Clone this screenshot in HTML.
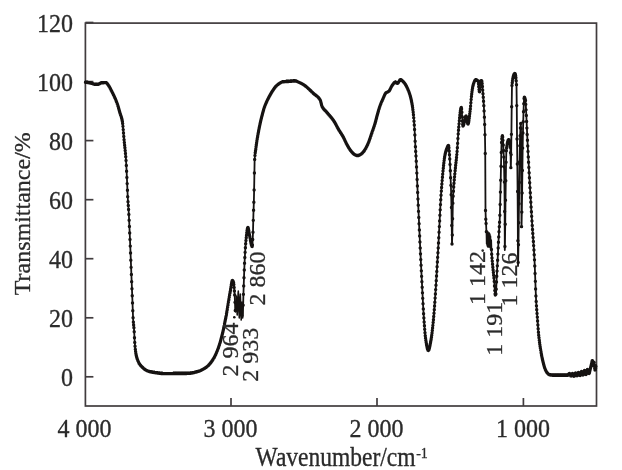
<!DOCTYPE html>
<html><head><meta charset="utf-8"><style>
html,body{margin:0;padding:0;background:#fff;}
svg{display:block;}
text{font-family:"Liberation Serif","Times New Roman",serif;font-size:24px;fill:#2b2b2b;stroke:#2b2b2b;stroke-width:0.3px;stroke-linejoin:round;}
</style></head><body>
<svg width="622" height="470" viewBox="0 0 622 470">
<rect x="0" y="0" width="622" height="470" fill="#fff"/>
<g stroke="#413c3e" stroke-width="1.7" fill="none">
<rect x="85.4" y="23.1" width="511.1" height="382.9"/>
<line x1="85.4" y1="376.8" x2="93.4" y2="376.8"/><line x1="85.4" y1="317.8" x2="93.4" y2="317.8"/><line x1="85.4" y1="258.7" x2="93.4" y2="258.7"/><line x1="85.4" y1="199.7" x2="93.4" y2="199.7"/><line x1="85.4" y1="140.6" x2="93.4" y2="140.6"/><line x1="85.4" y1="81.6" x2="93.4" y2="81.6"/><line x1="85.4" y1="22.5" x2="93.4" y2="22.5"/><line x1="231.0" y1="406" x2="231.0" y2="398"/><line x1="377.0" y1="406" x2="377.0" y2="398"/><line x1="523.4" y1="406" x2="523.4" y2="398"/>
</g>
<path d="M85.50,82.20 L85.78,82.23 L86.06,82.27 L86.34,82.30 L86.63,82.34 L86.91,82.38 L87.19,82.42 L87.47,82.47 L87.75,82.52 L88.03,82.56 L88.31,82.61 L88.60,82.67 L88.88,82.72 L89.16,82.77 L89.44,82.83 L89.72,82.89 L90.00,82.95 L90.29,83.01 L90.57,83.07 L90.85,83.13 L91.13,83.19 L91.41,83.26 L91.60,83.30 L91.69,83.32 L91.97,83.40 L92.26,83.49 L92.54,83.60 L92.82,83.71 L93.10,83.82 L93.38,83.93 L93.66,84.04 L93.94,84.14 L94.23,84.23 L94.51,84.30 L94.79,84.36 L95.07,84.39 L95.30,84.40 L95.35,84.40 L95.63,84.40 L95.92,84.39 L96.20,84.39 L96.48,84.38 L96.76,84.37 L97.04,84.36 L97.32,84.35 L97.60,84.33 L97.89,84.31 L98.10,84.30 L98.17,84.29 L98.45,84.24 L98.73,84.14 L99.01,84.02 L99.29,83.86 L99.57,83.70 L99.86,83.53 L100.14,83.36 L100.42,83.20 L100.70,83.07 L100.98,82.97 L101.26,82.90 L101.30,82.90 L101.55,82.87 L101.83,82.84 L102.11,82.81 L102.39,82.78 L102.67,82.75 L102.95,82.73 L103.23,82.71 L103.52,82.68 L103.80,82.67 L104.08,82.65 L104.36,82.63 L104.64,82.62 L104.92,82.61 L105.20,82.61 L105.49,82.60 L105.77,82.60 L105.80,82.60 L106.05,82.64 L106.33,82.77 L106.61,82.99 L106.89,83.27 L107.18,83.60 L107.46,83.97 L107.74,84.37 L108.02,84.78 L108.30,85.18 L108.58,85.58 L108.60,85.60 L108.86,85.98 L109.15,86.41 L109.43,86.89 L109.71,87.39 L109.99,87.91 L110.27,88.46 L110.55,89.01 L110.83,89.58 L111.12,90.14 L111.40,90.71 L111.68,91.26 L111.70,91.30 L111.96,91.81 L112.24,92.36 L112.52,92.92 L112.81,93.49 L113.09,94.06 L113.37,94.63 L113.65,95.22 L113.93,95.81 L114.21,96.41 L114.49,97.03 L114.78,97.65 L114.80,97.70 L115.06,98.28 L115.34,98.92 L115.62,99.57 L115.90,100.24 L116.18,100.93 L116.46,101.65 L116.60,102.00 L116.75,102.39 L117.03,103.16 L117.31,103.97 L117.59,104.80 L117.87,105.65 L118.15,106.53 L118.30,107.00 L118.44,107.44 L118.72,108.40 L119.00,109.39 L119.28,110.41 L119.56,111.43 L119.84,112.44 L120.00,113.00 L120.12,113.42 L120.41,114.31 L120.69,115.13 L120.97,115.94 L121.25,116.78 L121.53,117.70 L121.81,118.75 L122.09,119.97 L122.30,121.00 L122.38,121.44 L122.66,123.58 L122.94,126.37 L123.22,129.58 L123.50,133.01 L123.78,136.43 L124.07,139.63 L124.10,140.00 L124.35,142.50 L124.63,145.17 L124.91,147.79 L125.19,150.50 L125.47,153.43 L125.75,156.72 L126.00,160.00 L126.04,160.53 L126.32,165.43 L126.60,171.27 L126.88,177.44 L127.00,180.00 L127.16,183.59 L127.44,190.28 L127.72,196.65 L127.90,200.00 L128.01,201.71 L128.29,205.53 L128.57,209.50 L128.60,210.00 L128.85,214.53 L129.13,220.26 L129.41,226.46 L129.70,232.93 L129.98,239.47 L130.00,240.00 L130.26,246.11 L130.54,253.03 L130.82,260.16 L131.10,267.37 L131.38,274.56 L131.60,280.00 L131.67,281.65 L131.95,288.69 L132.23,295.72 L132.40,300.00 L132.51,302.89 L132.79,310.73 L133.07,317.69 L133.20,320.00 L133.35,322.11 L133.64,324.97 L133.92,327.69 L134.10,330.00 L134.20,331.72 L134.48,337.80 L134.60,340.00 L134.76,342.47 L135.04,346.30 L135.33,349.35 L135.40,350.00 L135.61,351.59 L135.89,353.42 L136.17,354.94 L136.40,356.00 L136.45,356.22 L136.73,357.33 L137.01,358.30 L137.30,359.16 L137.58,359.94 L137.60,360.00 L137.86,360.66 L138.14,361.35 L138.42,361.99 L138.70,362.58 L138.98,363.13 L139.27,363.63 L139.50,364.00 L139.55,364.07 L139.83,364.48 L140.11,364.85 L140.39,365.20 L140.67,365.52 L140.96,365.83 L141.24,366.13 L141.52,366.42 L141.80,366.70 L141.80,366.70 L142.08,366.98 L142.36,367.27 L142.64,367.54 L142.93,367.82 L143.21,368.08 L143.49,368.34 L143.77,368.58 L144.05,368.82 L144.33,369.04 L144.61,369.25 L144.90,369.43 L145.00,369.50 L145.18,369.61 L145.46,369.78 L145.74,369.94 L146.02,370.10 L146.30,370.25 L146.59,370.40 L146.87,370.54 L147.15,370.68 L147.43,370.81 L147.71,370.94 L147.99,371.05 L148.27,371.16 L148.56,371.27 L148.84,371.36 L149.12,371.45 L149.30,371.50 L149.40,371.53 L149.68,371.60 L149.96,371.68 L150.24,371.74 L150.53,371.81 L150.81,371.87 L151.09,371.94 L151.37,371.99 L151.65,372.05 L151.93,372.11 L152.22,372.16 L152.50,372.21 L152.78,372.26 L153.06,372.30 L153.34,372.35 L153.62,372.39 L153.90,372.44 L154.19,372.48 L154.47,372.52 L154.75,372.56 L155.00,372.60 L155.03,372.60 L155.31,372.65 L155.59,372.69 L155.87,372.73 L156.16,372.77 L156.44,372.81 L156.72,372.86 L157.00,372.90 L157.28,372.94 L157.56,372.99 L157.85,373.03 L158.13,373.07 L158.41,373.11 L158.69,373.15 L158.97,373.19 L159.25,373.23 L159.53,373.27 L159.82,373.30 L160.10,373.34 L160.38,373.37 L160.66,373.40 L160.94,373.43 L161.22,373.46 L161.50,373.48 L161.79,373.51 L162.07,373.53 L162.35,373.55 L162.63,373.56 L162.91,373.58 L163.19,373.59 L163.48,373.59 L163.76,373.60 L164.00,373.60 L164.04,373.60 L164.32,373.60 L164.60,373.60 L164.88,373.60 L165.16,373.60 L165.45,373.60 L165.73,373.60 L166.01,373.60 L166.29,373.60 L166.57,373.60 L166.85,373.60 L167.13,373.60 L167.42,373.60 L167.70,373.60 L167.98,373.60 L168.26,373.59 L168.54,373.59 L168.82,373.59 L169.11,373.59 L169.39,373.59 L169.67,373.59 L169.95,373.59 L170.23,373.59 L170.51,373.59 L170.79,373.59 L171.08,373.58 L171.36,373.58 L171.64,373.58 L171.92,373.58 L172.20,373.58 L172.48,373.58 L172.76,373.58 L173.05,373.57 L173.33,373.57 L173.61,373.57 L173.89,373.57 L174.17,373.57 L174.45,373.57 L174.74,373.56 L175.02,373.56 L175.30,373.56 L175.58,373.56 L175.86,373.56 L176.14,373.55 L176.42,373.55 L176.71,373.55 L176.99,373.55 L177.27,373.54 L177.55,373.54 L177.83,373.54 L178.11,373.54 L178.39,373.53 L178.68,373.53 L178.96,373.53 L179.24,373.52 L179.52,373.52 L179.80,373.52 L180.08,373.52 L180.37,373.51 L180.65,373.51 L180.93,373.51 L181.21,373.50 L181.49,373.50 L181.77,373.50 L182.05,373.49 L182.34,373.49 L182.62,373.48 L182.90,373.48 L183.18,373.48 L183.46,373.47 L183.74,373.47 L184.02,373.47 L184.31,373.46 L184.59,373.46 L184.87,373.45 L185.15,373.45 L185.43,373.44 L185.71,373.44 L186.00,373.43 L186.28,373.43 L186.56,373.43 L186.84,373.42 L187.12,373.42 L187.40,373.41 L187.68,373.41 L187.97,373.40 L188.00,373.40 L188.25,373.39 L188.53,373.38 L188.81,373.37 L189.09,373.35 L189.37,373.33 L189.65,373.30 L189.94,373.28 L190.22,373.24 L190.50,373.21 L190.78,373.17 L191.06,373.13 L191.34,373.09 L191.63,373.04 L191.91,372.99 L192.19,372.94 L192.47,372.89 L192.75,372.83 L193.03,372.77 L193.31,372.71 L193.60,372.65 L193.88,372.58 L194.16,372.52 L194.44,372.45 L194.72,372.38 L195.00,372.31 L195.28,372.24 L195.57,372.17 L195.85,372.09 L196.13,372.02 L196.41,371.94 L196.69,371.86 L196.97,371.79 L197.26,371.71 L197.54,371.63 L197.82,371.55 L198.00,371.50 L198.10,371.47 L198.38,371.39 L198.66,371.29 L198.94,371.19 L199.23,371.09 L199.51,370.97 L199.79,370.86 L200.07,370.73 L200.35,370.60 L200.63,370.47 L200.91,370.33 L201.20,370.19 L201.48,370.05 L201.76,369.90 L202.04,369.75 L202.32,369.60 L202.60,369.45 L202.89,369.29 L203.17,369.14 L203.45,368.98 L203.60,368.90 L203.73,368.83 L204.01,368.67 L204.29,368.51 L204.57,368.34 L204.86,368.18 L205.14,368.00 L205.42,367.82 L205.70,367.64 L205.98,367.45 L206.26,367.25 L206.54,367.05 L206.83,366.84 L207.11,366.62 L207.39,366.39 L207.50,366.30 L207.67,366.15 L207.95,365.90 L208.23,365.63 L208.52,365.35 L208.80,365.05 L209.08,364.74 L209.36,364.42 L209.64,364.09 L209.92,363.76 L210.20,363.41 L210.49,363.06 L210.77,362.69 L211.05,362.33 L211.30,362.00 L211.33,361.96 L211.61,361.58 L211.89,361.19 L212.17,360.79 L212.46,360.38 L212.74,359.96 L213.02,359.52 L213.30,359.07 L213.58,358.61 L213.86,358.13 L214.15,357.64 L214.43,357.13 L214.50,357.00 L214.71,356.61 L214.99,356.06 L215.27,355.48 L215.55,354.88 L215.83,354.25 L216.12,353.61 L216.40,352.96 L216.68,352.28 L216.96,351.59 L217.20,351.00 L217.24,350.89 L217.52,350.18 L217.80,349.44 L218.09,348.67 L218.37,347.89 L218.65,347.08 L218.93,346.25 L219.21,345.40 L219.49,344.52 L219.50,344.50 L219.78,343.61 L220.06,342.67 L220.34,341.69 L220.62,340.68 L220.90,339.65 L221.18,338.60 L221.46,337.54 L221.50,337.40 L221.75,336.45 L222.03,335.35 L222.31,334.23 L222.59,333.07 L222.87,331.88 L223.15,330.66 L223.30,330.00 L223.43,329.38 L223.72,328.03 L224.00,326.62 L224.28,325.17 L224.56,323.72 L224.84,322.29 L224.90,322.00 L225.12,320.89 L225.41,319.52 L225.69,318.15 L225.97,316.74 L226.25,315.27 L226.30,315.00 L226.53,313.70 L226.81,312.05 L227.09,310.35 L227.38,308.64 L227.40,308.50 L227.66,306.95 L227.94,305.23 L228.22,303.51 L228.50,301.80 L228.78,300.10 L228.80,300.00 L229.06,298.41 L229.35,296.71 L229.63,295.01 L229.91,293.34 L230.19,291.72 L230.47,290.15 L230.50,290.00 L230.75,288.50 L231.04,286.67 L231.32,284.80 L231.60,283.09 L231.88,281.69 L232.16,280.77 L232.40,280.50 L232.44,280.50 L232.72,280.69 L233.01,281.12 L233.29,281.72 L233.40,282.00 L233.57,282.64 L233.85,284.58 L234.13,287.41 L234.41,290.93 L234.69,294.93 L234.70,295.00 L234.98,302.36 L235.26,310.52M242.86,315.83 L243.14,305.23 L243.40,295.00 L243.42,294.36 L243.70,285.92 L243.98,277.68 L244.27,269.98 L244.55,263.19 L244.70,260.00 L244.83,257.51 L245.11,252.35 L245.39,247.70 L245.67,243.68 L245.95,240.44 L246.00,240.00 L246.24,237.75 L246.52,235.13 L246.80,232.69 L247.08,230.57 L247.36,228.90 L247.64,227.84 L247.90,227.50 L247.93,227.50 L248.21,228.01 L248.49,229.18 L248.77,230.77 L249.05,232.52 L249.33,234.17 L249.50,235.00 L249.61,235.53 L249.90,236.97 L250.18,238.54 L250.46,240.15 L250.74,241.73 L251.02,243.21 L251.30,244.51 L251.58,245.56 L251.87,246.28 L252.15,246.59 L252.20,246.60 L252.43,244.94 L252.71,239.49 L252.99,232.20 L253.00,232.00 L253.27,220.36 L253.40,215.00 L253.56,210.20 L253.84,202.23 L253.90,200.00 L254.12,189.96 L254.30,180.00 L254.40,173.02 L254.60,161.00 L254.68,159.46 L254.96,155.40 L255.24,152.76 L255.53,150.85 L255.81,149.01 L255.90,148.30 L256.09,146.81 L256.37,144.70 L256.65,142.71 L256.93,140.82 L257.21,139.02 L257.50,137.30 L257.78,135.63 L257.80,135.50 L258.06,134.01 L258.34,132.45 L258.62,130.94 L258.90,129.48 L259.19,128.06 L259.47,126.69 L259.75,125.34 L260.03,124.03 L260.30,122.80 L260.31,122.75 L260.59,121.50 L260.87,120.29 L261.16,119.12 L261.44,117.98 L261.72,116.87 L262.00,115.77 L262.20,115.00 L262.28,114.68 L262.56,113.60 L262.84,112.52 L263.13,111.47 L263.41,110.45 L263.69,109.48 L263.97,108.59 L264.00,108.50 L264.25,107.76 L264.53,106.97 L264.82,106.22 L265.10,105.50 L265.38,104.80 L265.66,104.13 L265.94,103.47 L266.10,103.10 L266.22,102.82 L266.50,102.18 L266.79,101.56 L267.07,100.96 L267.35,100.37 L267.63,99.78 L267.91,99.22 L268.19,98.66 L268.47,98.11 L268.76,97.56 L269.00,97.10 L269.04,97.03 L269.32,96.50 L269.60,95.97 L269.88,95.45 L270.16,94.94 L270.45,94.43 L270.73,93.93 L271.01,93.44 L271.29,92.96 L271.57,92.49 L271.85,92.04 L272.13,91.60 L272.40,91.20 L272.42,91.18 L272.70,90.76 L272.98,90.34 L273.26,89.92 L273.54,89.51 L273.82,89.10 L274.10,88.69 L274.39,88.29 L274.67,87.91 L274.95,87.53 L275.23,87.17 L275.51,86.82 L275.79,86.49 L276.08,86.17 L276.36,85.88 L276.64,85.60 L276.92,85.35 L277.10,85.20 L277.20,85.12 L277.48,84.90 L277.76,84.67 L278.05,84.45 L278.33,84.24 L278.61,84.02 L278.89,83.81 L279.17,83.61 L279.45,83.42 L279.73,83.23 L280.02,83.04 L280.30,82.87 L280.58,82.71 L280.86,82.56 L281.14,82.41 L281.42,82.28 L281.71,82.17 L281.99,82.06 L282.27,81.97 L282.55,81.90 L282.83,81.84 L283.10,81.80 L283.11,81.80 L283.39,81.77 L283.68,81.74 L283.96,81.71 L284.24,81.68 L284.52,81.66 L284.80,81.64 L285.08,81.62 L285.36,81.60 L285.65,81.58 L285.93,81.57 L286.21,81.55 L286.49,81.54 L286.77,81.52 L287.05,81.51 L287.34,81.49 L287.62,81.48 L287.90,81.47 L288.18,81.45 L288.46,81.43 L288.74,81.42 L289.00,81.40 L289.02,81.40 L289.31,81.38 L289.59,81.36 L289.87,81.33 L290.15,81.31 L290.43,81.29 L290.71,81.26 L290.99,81.24 L291.28,81.21 L291.56,81.19 L291.84,81.16 L292.12,81.14 L292.40,81.12 L292.68,81.10 L292.97,81.08 L293.25,81.06 L293.53,81.04 L293.81,81.03 L294.09,81.02 L294.37,81.01 L294.65,81.00 L294.94,81.00 L295.00,81.00 L295.22,81.01 L295.50,81.03 L295.78,81.08 L296.06,81.14 L296.34,81.22 L296.62,81.31 L296.91,81.41 L297.19,81.52 L297.47,81.64 L297.75,81.76 L298.03,81.89 L298.31,82.01 L298.60,82.13 L298.88,82.25 L299.00,82.30 L299.16,82.36 L299.44,82.48 L299.72,82.61 L300.00,82.73 L300.28,82.87 L300.57,83.00 L300.85,83.15 L301.13,83.29 L301.41,83.44 L301.69,83.60 L301.97,83.75 L302.25,83.92 L302.54,84.08 L302.82,84.25 L303.10,84.42 L303.38,84.60 L303.66,84.78 L303.94,84.96 L304.00,85.00 L304.23,85.15 L304.51,85.34 L304.79,85.54 L305.07,85.75 L305.35,85.96 L305.63,86.18 L305.91,86.41 L306.20,86.64 L306.48,86.87 L306.76,87.11 L307.04,87.36 L307.32,87.60 L307.60,87.85 L307.88,88.11 L308.17,88.37 L308.45,88.63 L308.73,88.89 L309.01,89.16 L309.29,89.43 L309.57,89.69 L309.86,89.97 L310.14,90.24 L310.42,90.51 L310.70,90.78 L310.98,91.06 L311.26,91.33 L311.54,91.61 L311.83,91.88 L312.11,92.15 L312.39,92.42 L312.67,92.69 L312.95,92.96 L313.10,93.10 L313.23,93.22 L313.51,93.48 L313.80,93.72 L314.08,93.95 L314.36,94.18 L314.64,94.39 L314.92,94.61 L315.20,94.82 L315.49,95.03 L315.77,95.24 L316.05,95.46 L316.33,95.68 L316.61,95.90 L316.89,96.14 L317.17,96.38 L317.46,96.64 L317.74,96.91 L318.02,97.19 L318.30,97.50 L318.58,97.82 L318.86,98.16 L319.14,98.53 L319.43,98.92 L319.71,99.33 L319.99,99.78 L320.27,100.25 L320.30,100.30 L320.55,100.90 L320.83,101.88 L321.12,103.04 L321.40,104.25 L321.68,105.38 L321.96,106.28 L322.10,106.60 L322.24,106.87 L322.52,107.37 L322.80,107.82 L323.09,108.24 L323.37,108.62 L323.65,108.97 L323.93,109.30 L324.21,109.61 L324.49,109.90 L324.77,110.18 L325.06,110.46 L325.34,110.74 L325.62,111.02 L325.90,111.31 L326.18,111.61 L326.46,111.94 L326.60,112.10 L326.75,112.28 L327.03,112.62 L327.31,112.95 L327.59,113.29 L327.87,113.62 L328.15,113.94 L328.43,114.27 L328.72,114.59 L329.00,114.92 L329.28,115.24 L329.56,115.56 L329.84,115.89 L330.12,116.22 L330.40,116.55 L330.69,116.88 L330.97,117.22 L331.25,117.56 L331.53,117.90 L331.81,118.26 L332.09,118.61 L332.38,118.98 L332.66,119.35 L332.94,119.73 L333.22,120.12 L333.50,120.52 L333.78,120.93 L333.90,121.10 L334.06,121.35 L334.35,121.79 L334.63,122.26 L334.91,122.74 L335.19,123.24 L335.47,123.75 L335.75,124.28 L336.03,124.81 L336.32,125.34 L336.60,125.88 L336.88,126.42 L337.16,126.95 L337.44,127.48 L337.72,128.00 L338.01,128.51 L338.29,129.01 L338.40,129.20 L338.57,129.49 L338.85,129.96 L339.13,130.42 L339.41,130.87 L339.69,131.32 L339.98,131.76 L340.26,132.20 L340.54,132.63 L340.82,133.07 L341.10,133.51 L341.38,133.96 L341.66,134.40 L341.95,134.86 L342.23,135.32 L342.51,135.79 L342.79,136.28 L343.07,136.77 L343.20,137.00 L343.35,137.28 L343.64,137.82 L343.92,138.38 L344.20,138.95 L344.48,139.54 L344.76,140.14 L345.04,140.74 L345.32,141.35 L345.61,141.96 L345.89,142.55 L346.17,143.14 L346.45,143.72 L346.73,144.27 L347.01,144.81 L347.29,145.32 L347.40,145.50 L347.58,145.80 L347.86,146.28 L348.14,146.76 L348.42,147.23 L348.70,147.69 L348.98,148.14 L349.27,148.59 L349.55,149.02 L349.83,149.45 L350.11,149.86 L350.39,150.26 L350.67,150.64 L350.95,151.01 L351.24,151.36 L351.52,151.69 L351.70,151.90 L351.80,152.01 L352.08,152.32 L352.36,152.62 L352.64,152.92 L352.92,153.21 L353.21,153.48 L353.49,153.74 L353.77,153.98 L354.05,154.20 L354.33,154.39 L354.61,154.56 L354.70,154.60 L354.90,154.70 L355.18,154.84 L355.46,154.98 L355.74,155.11 L356.02,155.23 L356.30,155.34 L356.58,155.43 L356.87,155.51 L357.15,155.56 L357.43,155.59 L357.60,155.60 L357.71,155.60 L357.99,155.57 L358.27,155.51 L358.55,155.43 L358.84,155.33 L359.12,155.21 L359.40,155.08 L359.68,154.94 L359.96,154.79 L360.24,154.64 L360.50,154.50 L360.53,154.49 L360.81,154.32 L361.09,154.13 L361.37,153.92 L361.65,153.69 L361.93,153.44 L362.21,153.17 L362.50,152.89 L362.78,152.60 L363.06,152.29 L363.34,151.97 L363.40,151.90 L363.62,151.64 L363.90,151.28 L364.18,150.89 L364.47,150.49 L364.75,150.06 L365.03,149.61 L365.31,149.14 L365.59,148.65 L365.87,148.14 L366.16,147.62 L366.44,147.08 L366.72,146.53 L367.00,145.96 L367.28,145.38 L367.56,144.79 L367.70,144.50 L367.84,144.19 L368.13,143.54 L368.41,142.86 L368.69,142.14 L368.97,141.40 L369.25,140.62 L369.53,139.82 L369.81,139.01 L370.10,138.18 L370.38,137.34 L370.66,136.49 L370.94,135.64 L371.22,134.80 L371.50,133.96 L371.79,133.13 L371.90,132.80 L372.07,132.32 L372.35,131.51 L372.63,130.70 L372.91,129.89 L373.19,129.08 L373.47,128.26 L373.76,127.43 L374.04,126.58 L374.32,125.72 L374.60,124.83 L374.88,123.92 L375.10,123.20 L375.16,122.99 L375.44,122.00 L375.73,120.95 L376.01,119.87 L376.29,118.77 L376.57,117.66 L376.85,116.55 L377.13,115.47 L377.42,114.42 L377.70,113.41 L377.70,113.40 L377.98,112.44 L378.26,111.47 L378.54,110.52 L378.82,109.58 L379.10,108.67 L379.39,107.79 L379.67,106.95 L379.95,106.14 L380.00,106.00 L380.23,105.37 L380.51,104.64 L380.79,103.92 L381.07,103.23 L381.36,102.56 L381.64,101.90 L381.92,101.26 L382.20,100.63 L382.48,100.00 L382.76,99.38 L382.80,99.30 L383.05,98.75 L383.33,98.09 L383.61,97.42 L383.89,96.74 L384.17,96.08 L384.45,95.44 L384.73,94.84 L385.02,94.28 L385.30,93.79 L385.58,93.37 L385.86,93.04 L385.90,93.00 L386.14,92.78 L386.42,92.57 L386.70,92.39 L386.99,92.24 L387.27,92.10 L387.55,91.96 L387.83,91.83 L388.11,91.69 L388.39,91.53 L388.68,91.34 L388.96,91.13 L389.10,91.00 L389.24,90.86 L389.52,90.50 L389.80,90.06 L390.08,89.55 L390.36,88.99 L390.65,88.41 L390.93,87.81 L391.21,87.22 L391.49,86.65 L391.77,86.12 L392.05,85.65 L392.30,85.30 L392.33,85.26 L392.62,84.88 L392.90,84.50 L393.18,84.12 L393.46,83.74 L393.74,83.38 L394.02,83.04 L394.31,82.75 L394.59,82.49 L394.87,82.30 L395.15,82.16 L395.43,82.10 L395.50,82.10 L395.71,82.15 L395.99,82.32 L396.28,82.57 L396.56,82.86 L396.84,83.13 L397.12,83.32 L397.40,83.40 L397.40,83.40 L397.68,83.32 L397.96,83.09 L398.25,82.74 L398.53,82.32 L398.81,81.84 L399.09,81.34 L399.37,80.85 L399.65,80.40 L399.94,80.02 L400.22,79.75 L400.50,79.61 L400.60,79.60 L400.78,79.62 L401.06,79.72 L401.34,79.88 L401.62,80.10 L401.91,80.37 L402.19,80.65 L402.47,80.95 L402.75,81.25 L403.00,81.50 L403.03,81.53 L403.31,81.81 L403.59,82.10 L403.88,82.41 L404.16,82.74 L404.44,83.09 L404.72,83.47 L405.00,83.86 L405.10,84.00 L405.28,84.28 L405.57,84.72 L405.85,85.20 L406.13,85.71 L406.41,86.24 L406.69,86.80 L406.97,87.38 L407.25,87.98 L407.54,88.61 L407.82,89.25 L408.10,89.92 L408.30,90.40 L408.38,90.60 L408.66,91.30 L408.94,92.03 L409.22,92.79 L409.51,93.60 L409.79,94.45 L410.07,95.36 L410.35,96.32 L410.63,97.35 L410.80,98.00 L410.91,98.46 L411.20,99.67 L411.48,101.00 L411.76,102.45 L412.04,104.03 L412.32,105.75 L412.60,107.62 L412.70,108.30 L412.88,109.69 L413.17,112.09 L413.45,114.81 L413.73,117.83 L414.00,121.00 L414.01,121.13 L414.29,124.99 L414.57,129.54 L414.60,130.00 L414.85,135.04 L415.14,141.19 L415.30,144.50 L415.42,146.65 L415.70,151.40 L415.98,156.06 L416.20,160.00 L416.26,161.21 L416.54,166.96 L416.83,173.11 L417.11,179.52 L417.39,186.05 L417.67,192.57 L417.95,198.93 L418.00,200.00 L418.23,205.13 L418.51,211.35 L418.80,217.56 L419.08,223.76 L419.36,229.92 L419.64,236.02 L419.92,242.05 L420.20,247.99 L420.30,250.00 L420.48,253.83 L420.77,259.59 L421.05,265.27 L421.33,270.87 L421.61,276.37 L421.80,280.00 L421.89,281.78 L422.17,287.28 L422.46,292.83 L422.74,298.35 L423.02,303.73 L423.30,308.88 L423.58,313.69 L423.86,318.06 L424.00,320.00 L424.14,321.97 L424.43,325.75 L424.71,329.35 L424.99,332.70 L425.27,335.68 L425.55,338.22 L425.80,340.00 L425.83,340.21 L426.11,341.96 L426.40,343.67 L426.68,345.29 L426.96,346.76 L427.24,348.06 L427.52,349.13 L427.80,349.92 L428.09,350.39 L428.30,350.50 L428.37,350.49 L428.65,350.23 L428.93,349.65 L429.21,348.81 L429.49,347.73 L429.77,346.48 L430.06,345.09 L430.34,343.60 L430.62,342.07 L430.90,340.53 L431.00,340.00 L431.18,338.97 L431.46,337.19 L431.74,335.18 L432.03,332.96 L432.31,330.57 L432.59,328.02 L432.87,325.34 L433.15,322.54 L433.40,320.00 L433.43,319.65 L433.72,316.57 L434.00,313.27 L434.28,309.75 L434.56,306.04 L434.84,302.15 L435.12,298.10 L435.40,293.90 L435.69,289.58 L435.97,285.15 L436.25,280.64 L436.53,276.05 L436.81,271.41 L437.09,266.74 L437.37,262.04 L437.66,257.35 L437.94,252.68 L438.10,250.00 L438.22,247.99 L438.50,243.01 L438.78,237.72 L439.06,232.21 L439.35,226.58 L439.63,220.92 L439.91,215.31 L440.19,209.83 L440.47,204.59 L440.75,199.66 L441.03,195.13 L441.32,191.10 L441.40,190.00 L441.60,187.50 L441.88,184.00 L442.16,180.59 L442.44,177.28 L442.72,174.09 L443.00,171.05 L443.29,168.16 L443.57,165.45 L443.85,162.92 L444.13,160.61 L444.41,158.53 L444.69,156.70 L444.98,155.12 L445.00,155.00 L445.26,153.77 L445.54,152.54 L445.82,151.44 L446.10,150.46 L446.38,149.59 L446.66,148.83 L446.80,148.50 L446.95,148.15 L447.23,147.46 L447.51,146.80 L447.79,146.22 L448.07,145.78 L448.35,145.54 L448.50,145.50 L448.63,145.77 L448.92,147.77 L449.20,151.03 L449.48,154.73 L449.50,155.00 L449.76,158.97 L450.04,164.42 L450.32,170.75 L450.50,175.00 L450.61,177.64 L450.89,185.36 L451.17,194.77 L451.30,200.00 L451.45,207.52 L451.73,225.47 L451.80,230.00 L452.00,244.00 L452.01,243.97 L452.29,234.97 L452.40,230.00 L452.58,218.71 L452.80,205.00 L452.86,203.16 L453.14,196.19 L453.42,191.26 L453.50,190.00 L453.70,186.96 L453.98,183.22 L454.26,179.90 L454.55,176.84 L454.83,173.86 L455.00,172.00 L455.11,170.82 L455.39,167.97 L455.67,165.29 L455.95,162.71 L456.24,160.13 L456.52,157.45 L456.80,154.59 L457.08,151.45 L457.20,150.00 L457.36,147.81 L457.64,143.33 L457.92,138.50 L458.21,133.90 L458.49,130.14 L458.50,130.00 L458.77,127.00 L459.05,123.83 L459.33,120.71 L459.61,117.72 L459.89,114.95 L460.18,112.50 L460.46,110.44 L460.74,108.86 L461.02,107.85 L461.30,107.50 L461.30,107.50 L461.58,108.88 L461.87,112.28 L462.15,116.70 L462.43,121.13 L462.71,124.57 L462.99,126.00 L463.00,126.00 L463.27,125.77 L463.55,125.10 L463.84,124.10 L464.12,122.87 L464.40,121.50 L464.68,120.10 L464.96,118.76 L465.24,117.59 L465.52,116.67 L465.81,116.12 L466.00,116.00 L466.09,116.05 L466.37,116.72 L466.65,117.99 L466.93,119.60 L467.21,121.26 L467.50,122.73 L467.78,123.72 L468.00,124.00 L468.06,123.98 L468.34,123.46 L468.62,122.30 L468.90,120.64 L469.18,118.59 L469.47,116.29 L469.75,113.86 L470.03,111.42 L470.20,110.00 L470.31,109.04 L470.59,106.12 L470.87,102.81 L471.15,99.47 L471.44,96.46 L471.60,95.00 L471.72,94.05 L472.00,91.82 L472.28,89.74 L472.56,87.88 L472.84,86.35 L473.10,85.30 L473.13,85.21 L473.41,84.29 L473.69,83.41 L473.97,82.58 L474.25,81.83 L474.53,81.17 L474.81,80.62 L475.10,80.19 L475.38,79.92 L475.66,79.80 L475.70,79.80 L475.94,79.81 L476.22,79.86 L476.50,79.95 L476.78,80.07 L477.07,80.23 L477.35,80.42 L477.63,80.65 L477.91,80.91 L478.00,81.00 L478.19,81.65 L478.47,83.83 L478.76,86.75 L479.04,89.61 L479.32,91.58 L479.50,92.00 L479.60,91.70 L479.88,88.48 L480.16,84.01 L480.44,81.13 L480.50,81.00 L480.73,80.85 L481.01,80.72 L481.29,80.63 L481.57,80.60 L481.60,80.60 L481.85,81.29 L482.13,83.41 L482.41,86.50 L482.70,90.10 L482.98,93.73 L483.00,94.00 L483.26,97.28 L483.54,101.18 L483.82,105.64 L484.10,110.88 L484.39,117.13 L484.50,120.00 L484.67,124.48 L484.95,134.70 L485.20,150.00 L485.23,153.43 L485.50,210.00 L485.51,210.54 L485.79,219.14 L486.07,223.56 L486.30,229.00 L486.36,231.63M491.14,240.37 L491.40,249.00 L491.42,249.46 L491.70,254.22 L491.99,257.89 L492.27,261.09 L492.40,262.60 L492.55,264.28 L492.83,267.20 L493.11,269.89 L493.39,272.50 L493.67,275.17 L493.96,278.02 L494.10,279.60 L494.24,281.39 L494.52,285.94 L494.80,290.60 L495.08,294.03 L495.30,295.00 L495.36,294.99 L495.65,294.64 L495.90,294.00 L495.93,293.88 L496.21,289.28 L496.49,282.05 L496.60,279.60 L496.77,276.30 L497.05,271.08 L497.33,265.84 L497.50,262.60 L497.62,260.21 L497.90,254.11 L498.18,247.99 L498.30,245.50 L498.46,242.31 L498.74,236.90 L499.02,231.68 L499.20,228.50 L499.30,226.76 L499.59,222.31 L499.70,220.00 L499.87,215.28 L500.15,204.44 L500.43,192.09 L500.60,185.00 L500.71,180.17 L500.99,166.25 L501.28,152.51 L501.56,142.51 L501.70,140.00 L501.84,138.69 L502.12,136.61 L502.40,135.80 L502.40,135.80 L502.68,137.05 L502.96,140.34 L503.25,145.06 L503.50,150.00 L503.53,150.56 L503.81,157.12 L504.09,166.86 L504.37,182.08 L504.60,200.00 L504.65,211.45 L504.80,250.00 L504.93,246.46 L505.22,224.27 L505.50,200.13 L505.50,200.00 L505.78,180.73 L506.06,162.15 L506.34,150.84 L506.40,150.00 L506.62,148.04 L506.91,145.90 L507.19,144.10 L507.47,142.61 L507.75,141.44 L508.03,140.57 L508.31,139.98 L508.59,139.67 L508.80,139.60 L508.88,139.62 L509.16,139.97 L509.44,140.85 L509.72,142.31 L510.00,144.43 L510.28,147.28 L510.50,150.00 L510.56,152.72 L510.80,168.00 L510.85,167.66 L511.13,154.58 L511.40,135.00 L511.41,134.35 L511.69,106.70 L511.97,85.46 L512.00,85.00 L512.25,82.75 L512.54,80.60 L512.82,78.79 L513.10,77.29 L513.38,76.08 L513.66,75.14 L513.94,74.43 L514.22,73.94 L514.51,73.64 L514.79,73.51 L514.90,73.50 L515.07,73.61 L515.35,74.28 L515.63,75.65 L515.91,77.78 L516.19,80.75 L516.48,84.63 L516.50,85.00 L516.76,105.60 L517.00,135.00 L517.04,138.93 L517.32,163.93 L517.60,191.43 L517.80,218.00 L517.88,240.74 L518.00,266.00 L518.17,262.38 L518.45,244.65 L518.73,222.77 L518.80,218.00 L519.01,203.71 L519.29,182.48 L519.57,162.00 L519.85,145.68 L520.00,140.00 L520.14,135.79 L520.42,127.99 L520.70,123.40 L520.80,123.00 L520.98,128.43 L521.26,155.06 L521.30,160.00 L521.50,227.00 L521.54,226.63 L521.82,212.11 L522.00,200.00 L522.11,192.89 L522.39,170.39 L522.67,148.11 L522.90,135.00 L522.95,132.93 L523.23,121.76 L523.51,111.70 L523.80,103.66 L524.08,98.56 L524.30,97.20 L524.36,97.21 L524.64,97.51 L524.92,98.18 L525.20,99.16 L525.40,100.00 L525.48,100.55 L525.77,104.33 L526.05,109.86 L526.30,115.00 L526.33,115.56 L526.61,121.57 L526.89,128.11 L527.17,134.44 L527.20,135.00 L527.45,140.26 L527.74,145.94 L528.02,151.48 L528.30,156.91 L528.58,162.23 L528.86,167.47 L529.00,170.00 L529.14,172.63 L529.43,177.73 L529.71,182.76 L529.99,187.73 L530.27,192.64 L530.55,197.49 L530.83,202.28 L531.11,207.02 L531.40,211.71 L531.68,216.35 L531.96,220.94 L532.00,221.60 L532.24,225.38 L532.52,229.55 L532.80,233.55 L533.08,237.49 L533.37,241.47 L533.65,245.59 L533.93,249.96 L534.21,254.68 L534.49,259.85 L534.50,260.00 L534.77,266.07 L535.06,273.45 L535.34,281.35 L535.62,289.07 L535.90,295.97 L536.10,300.00 L536.18,301.42 L536.46,305.84 L536.74,309.73 L537.03,313.39 L537.30,317.00 L537.31,317.10 L537.59,321.02 L537.87,324.98 L538.15,328.77 L538.43,332.21 L538.60,334.00 L538.71,335.14 L539.00,337.78 L539.28,340.22 L539.56,342.48 L539.84,344.58 L540.12,346.53 L540.30,347.70 L540.40,348.36 L540.69,350.11 L540.97,351.78 L541.25,353.37 L541.53,354.89 L541.81,356.34 L542.09,357.72 L542.37,359.03 L542.66,360.27 L542.90,361.30 L542.94,361.45 L543.22,362.60 L543.50,363.72 L543.78,364.81 L544.06,365.85 L544.34,366.83 L544.63,367.74 L544.91,368.57 L545.19,369.31 L545.40,369.80 L545.47,369.95 L545.75,370.54 L546.03,371.08 L546.32,371.58 L546.60,372.04 L546.88,372.45 L547.16,372.82 L547.44,373.14 L547.50,373.20 L547.72,373.42 L548.00,373.70 L548.29,373.96 L548.57,374.20 L548.85,374.41 L549.13,374.59 L549.41,374.72 L549.69,374.80 L549.70,374.80 L549.97,374.85 L550.26,374.90 L550.54,374.94 L550.82,374.99 L551.10,375.03 L551.38,375.07 L551.66,375.10 L551.95,375.13 L552.23,375.16 L552.51,375.19 L552.79,375.21 L553.07,375.23 L553.35,375.25 L553.63,375.27 L553.92,375.28 L554.20,375.29 L554.48,375.30 L554.76,375.30 L555.00,375.30 L555.04,375.30 L555.32,375.30 L555.60,375.30 L555.89,375.30 L556.17,375.30 L556.45,375.30 L556.73,375.30 L557.01,375.30 L557.29,375.30 L557.58,375.30 L557.86,375.30 L558.14,375.30 L558.42,375.30 L558.70,375.30 L558.98,375.29 L559.26,375.29 L559.55,375.29 L559.83,375.29 L560.11,375.29 L560.39,375.29 L560.67,375.29 L560.95,375.29 L561.23,375.28 L561.52,375.28 L561.80,375.28 L562.08,375.28 L562.36,375.28 L562.64,375.27 L562.92,375.27 L563.21,375.27 L563.49,375.27 L563.77,375.26 L564.05,375.26 L564.33,375.26 L564.61,375.25 L564.89,375.25 L565.18,375.25 L565.46,375.24 L565.74,375.24 L566.02,375.23 L566.30,375.23 L566.58,375.22 L566.86,375.22 L567.15,375.21 L567.43,375.21 L567.71,375.20 L567.80,375.20 L567.99,375.14 L568.27,374.87 L568.55,374.49 L568.84,374.07 L569.12,373.72 L569.40,373.52 L569.50,373.50 L569.68,373.60 L569.96,374.06 L570.24,374.73 L570.52,375.41 L570.81,375.89 L571.00,376.00 L571.09,375.98 L571.37,375.62 L571.65,375.00 L571.93,374.30 L572.21,373.74 L572.49,373.50 L572.50,373.50 L572.78,373.75 L573.06,374.37 L573.34,375.15 L573.62,375.85 L573.90,376.27 L574.00,376.30 L574.18,376.16 L574.47,375.54 L574.75,374.66 L575.03,373.77 L575.31,373.15 L575.50,373.00 L575.59,373.03 L575.87,373.43 L576.15,374.13 L576.44,374.91 L576.72,375.54 L577.00,375.80 L577.00,375.80 L577.28,375.50 L577.56,374.76 L577.84,373.84 L578.12,373.02 L578.41,372.54 L578.50,372.50 L578.69,372.63 L578.97,373.20 L579.25,374.00 L579.53,374.81 L579.81,375.37 L580.00,375.50 L580.10,375.45 L580.38,374.87 L580.66,373.86 L580.94,372.76 L581.22,371.86 L581.50,371.50 L581.50,371.50 L581.78,371.83 L582.07,372.62 L582.35,373.59 L582.63,374.46 L582.91,374.96 L583.00,375.00 L583.19,374.80 L583.47,373.94 L583.75,372.73 L584.04,371.52 L584.32,370.68 L584.50,370.50 L584.60,370.55 L584.88,371.14 L585.16,372.15 L585.44,373.26 L585.73,374.15 L586.00,374.50 L586.01,374.50 L586.29,374.02 L586.57,372.88 L586.85,371.50 L587.13,370.25 L587.41,369.55 L587.50,369.50 L587.70,369.69 L587.98,370.46 L588.26,371.54 L588.54,372.60 L588.82,373.34 L589.00,373.50 L589.10,373.45 L589.38,372.88 L589.67,371.84 L589.95,370.53 L590.23,369.17 L590.50,368.00 L590.51,367.96 L590.79,366.85 L591.07,365.71 L591.36,364.57 L591.50,364.00 L591.64,363.39 L591.92,361.96 L592.20,360.81 L592.40,360.50 L592.48,360.66 L592.76,362.87 L593.04,365.46 L593.20,366.00 L593.33,365.73 L593.61,363.94 L593.89,362.21 L594.00,362.00 L594.17,362.62 L594.45,365.43 L594.73,368.60 L595.00,370.00 L595.01,370.00 L595.30,369.65 L595.58,368.54 L595.86,366.46 L596.00,365.00" fill="none" stroke="#151211" stroke-width="1.8" stroke-linejoin="round" stroke-linecap="round"/>
<path d="M85.50,82.20h0M85.78,82.23h0M86.06,82.27h0M86.34,82.30h0M86.63,82.34h0M86.91,82.38h0M87.19,82.42h0M87.47,82.47h0M87.75,82.52h0M88.03,82.56h0M88.31,82.61h0M88.60,82.67h0M88.88,82.72h0M89.16,82.77h0M89.44,82.83h0M89.72,82.89h0M90.00,82.95h0M90.29,83.01h0M90.57,83.07h0M90.85,83.13h0M91.13,83.19h0M91.41,83.26h0M91.69,83.32h0M91.97,83.40h0M92.26,83.49h0M92.54,83.60h0M92.82,83.71h0M93.10,83.82h0M93.38,83.93h0M93.66,84.04h0M93.94,84.14h0M94.23,84.23h0M94.51,84.30h0M94.79,84.36h0M95.07,84.39h0M95.35,84.40h0M95.63,84.40h0M95.92,84.39h0M96.20,84.39h0M96.48,84.38h0M96.76,84.37h0M97.04,84.36h0M97.32,84.35h0M97.60,84.33h0M97.89,84.31h0M98.17,84.29h0M98.45,84.24h0M98.73,84.14h0M99.01,84.02h0M99.29,83.86h0M99.57,83.70h0M99.86,83.53h0M100.14,83.36h0M100.42,83.20h0M100.70,83.07h0M100.98,82.97h0M101.26,82.90h0M101.55,82.87h0M101.83,82.84h0M102.11,82.81h0M102.39,82.78h0M102.67,82.75h0M102.95,82.73h0M103.23,82.71h0M103.52,82.68h0M103.80,82.67h0M104.08,82.65h0M104.36,82.63h0M104.64,82.62h0M104.92,82.61h0M105.20,82.61h0M105.49,82.60h0M105.77,82.60h0M106.05,82.64h0M106.33,82.77h0M106.61,82.99h0M106.89,83.27h0M107.18,83.60h0M107.46,83.97h0M107.74,84.37h0M108.02,84.78h0M108.30,85.18h0M108.58,85.58h0M108.86,85.98h0M109.15,86.41h0M109.43,86.89h0M109.71,87.39h0M109.99,87.91h0M110.27,88.46h0M110.55,89.01h0M110.83,89.58h0M111.12,90.14h0M111.40,90.71h0M111.68,91.26h0M111.96,91.81h0M112.24,92.36h0M112.52,92.92h0M112.81,93.49h0M113.09,94.06h0M113.37,94.63h0M113.65,95.22h0M113.93,95.81h0M114.21,96.41h0M114.49,97.03h0M114.78,97.65h0M115.06,98.28h0M115.34,98.92h0M115.62,99.57h0M115.90,100.24h0M116.18,100.93h0M116.46,101.65h0M116.75,102.39h0M117.03,103.16h0M117.31,103.97h0M117.59,104.80h0M117.87,105.65h0M118.15,106.53h0M118.44,107.44h0M118.72,108.40h0M119.00,109.39h0M119.28,110.41h0M119.56,111.43h0M119.84,112.44h0M120.12,113.42h0M120.41,114.31h0M120.69,115.13h0M120.97,115.94h0M121.25,116.78h0M121.53,117.70h0M121.81,118.75h0M122.09,119.97h0M122.38,121.44h0M122.66,123.58h0M122.94,126.37h0M123.22,129.58h0M123.50,133.01h0M123.78,136.43h0M124.07,139.63h0M124.35,142.50h0M124.63,145.17h0M124.91,147.79h0M125.19,150.50h0M125.47,153.43h0M125.75,156.72h0M126.04,160.53h0M126.32,165.43h0M126.60,171.27h0M126.88,177.44h0M127.16,183.59h0M127.44,190.28h0M127.72,196.65h0M128.01,201.71h0M128.29,205.53h0M128.57,209.50h0M128.85,214.53h0M129.13,220.26h0M129.41,226.46h0M129.70,232.93h0M129.98,239.47h0M130.26,246.11h0M130.54,253.03h0M130.82,260.16h0M131.10,267.37h0M131.38,274.56h0M131.67,281.65h0M131.95,288.69h0M132.23,295.72h0M132.51,302.89h0M132.79,310.73h0M133.07,317.69h0M133.35,322.11h0M133.64,324.97h0M133.92,327.69h0M134.20,331.72h0M134.48,337.80h0M134.76,342.47h0M135.04,346.30h0M135.33,349.35h0M135.61,351.59h0M135.89,353.42h0M136.17,354.94h0M136.45,356.22h0M136.73,357.33h0M137.01,358.30h0M137.30,359.16h0M137.58,359.94h0M137.86,360.66h0M138.14,361.35h0M138.42,361.99h0M138.70,362.58h0M138.98,363.13h0M139.27,363.63h0M139.55,364.07h0M139.83,364.48h0M140.11,364.85h0M140.39,365.20h0M140.67,365.52h0M140.96,365.83h0M141.24,366.13h0M141.52,366.42h0M141.80,366.70h0M142.08,366.98h0M142.36,367.27h0M142.64,367.54h0M142.93,367.82h0M143.21,368.08h0M143.49,368.34h0M143.77,368.58h0M144.05,368.82h0M144.33,369.04h0M144.61,369.25h0M144.90,369.43h0M145.18,369.61h0M145.46,369.78h0M145.74,369.94h0M146.02,370.10h0M146.30,370.25h0M146.59,370.40h0M146.87,370.54h0M147.15,370.68h0M147.43,370.81h0M147.71,370.94h0M147.99,371.05h0M148.27,371.16h0M148.56,371.27h0M148.84,371.36h0M149.12,371.45h0M149.40,371.53h0M149.68,371.60h0M149.96,371.68h0M150.24,371.74h0M150.53,371.81h0M150.81,371.87h0M151.09,371.94h0M151.37,371.99h0M151.65,372.05h0M151.93,372.11h0M152.22,372.16h0M152.50,372.21h0M152.78,372.26h0M153.06,372.30h0M153.34,372.35h0M153.62,372.39h0M153.90,372.44h0M154.19,372.48h0M154.47,372.52h0M154.75,372.56h0M155.03,372.60h0M155.31,372.65h0M155.59,372.69h0M155.87,372.73h0M156.16,372.77h0M156.44,372.81h0M156.72,372.86h0M157.00,372.90h0M157.28,372.94h0M157.56,372.99h0M157.85,373.03h0M158.13,373.07h0M158.41,373.11h0M158.69,373.15h0M158.97,373.19h0M159.25,373.23h0M159.53,373.27h0M159.82,373.30h0M160.10,373.34h0M160.38,373.37h0M160.66,373.40h0M160.94,373.43h0M161.22,373.46h0M161.50,373.48h0M161.79,373.51h0M162.07,373.53h0M162.35,373.55h0M162.63,373.56h0M162.91,373.58h0M163.19,373.59h0M163.48,373.59h0M163.76,373.60h0M164.04,373.60h0M164.32,373.60h0M164.60,373.60h0M164.88,373.60h0M165.16,373.60h0M165.45,373.60h0M165.73,373.60h0M166.01,373.60h0M166.29,373.60h0M166.57,373.60h0M166.85,373.60h0M167.13,373.60h0M167.42,373.60h0M167.70,373.60h0M167.98,373.60h0M168.26,373.59h0M168.54,373.59h0M168.82,373.59h0M169.11,373.59h0M169.39,373.59h0M169.67,373.59h0M169.95,373.59h0M170.23,373.59h0M170.51,373.59h0M170.79,373.59h0M171.08,373.58h0M171.36,373.58h0M171.64,373.58h0M171.92,373.58h0M172.20,373.58h0M172.48,373.58h0M172.76,373.58h0M173.05,373.57h0M173.33,373.57h0M173.61,373.57h0M173.89,373.57h0M174.17,373.57h0M174.45,373.57h0M174.74,373.56h0M175.02,373.56h0M175.30,373.56h0M175.58,373.56h0M175.86,373.56h0M176.14,373.55h0M176.42,373.55h0M176.71,373.55h0M176.99,373.55h0M177.27,373.54h0M177.55,373.54h0M177.83,373.54h0M178.11,373.54h0M178.39,373.53h0M178.68,373.53h0M178.96,373.53h0M179.24,373.52h0M179.52,373.52h0M179.80,373.52h0M180.08,373.52h0M180.37,373.51h0M180.65,373.51h0M180.93,373.51h0M181.21,373.50h0M181.49,373.50h0M181.77,373.50h0M182.05,373.49h0M182.34,373.49h0M182.62,373.48h0M182.90,373.48h0M183.18,373.48h0M183.46,373.47h0M183.74,373.47h0M184.02,373.47h0M184.31,373.46h0M184.59,373.46h0M184.87,373.45h0M185.15,373.45h0M185.43,373.44h0M185.71,373.44h0M186.00,373.43h0M186.28,373.43h0M186.56,373.43h0M186.84,373.42h0M187.12,373.42h0M187.40,373.41h0M187.68,373.41h0M187.97,373.40h0M188.25,373.39h0M188.53,373.38h0M188.81,373.37h0M189.09,373.35h0M189.37,373.33h0M189.65,373.30h0M189.94,373.28h0M190.22,373.24h0M190.50,373.21h0M190.78,373.17h0M191.06,373.13h0M191.34,373.09h0M191.63,373.04h0M191.91,372.99h0M192.19,372.94h0M192.47,372.89h0M192.75,372.83h0M193.03,372.77h0M193.31,372.71h0M193.60,372.65h0M193.88,372.58h0M194.16,372.52h0M194.44,372.45h0M194.72,372.38h0M195.00,372.31h0M195.28,372.24h0M195.57,372.17h0M195.85,372.09h0M196.13,372.02h0M196.41,371.94h0M196.69,371.86h0M196.97,371.79h0M197.26,371.71h0M197.54,371.63h0M197.82,371.55h0M198.10,371.47h0M198.38,371.39h0M198.66,371.29h0M198.94,371.19h0M199.23,371.09h0M199.51,370.97h0M199.79,370.86h0M200.07,370.73h0M200.35,370.60h0M200.63,370.47h0M200.91,370.33h0M201.20,370.19h0M201.48,370.05h0M201.76,369.90h0M202.04,369.75h0M202.32,369.60h0M202.60,369.45h0M202.89,369.29h0M203.17,369.14h0M203.45,368.98h0M203.73,368.83h0M204.01,368.67h0M204.29,368.51h0M204.57,368.34h0M204.86,368.18h0M205.14,368.00h0M205.42,367.82h0M205.70,367.64h0M205.98,367.45h0M206.26,367.25h0M206.54,367.05h0M206.83,366.84h0M207.11,366.62h0M207.39,366.39h0M207.67,366.15h0M207.95,365.90h0M208.23,365.63h0M208.52,365.35h0M208.80,365.05h0M209.08,364.74h0M209.36,364.42h0M209.64,364.09h0M209.92,363.76h0M210.20,363.41h0M210.49,363.06h0M210.77,362.69h0M211.05,362.33h0M211.33,361.96h0M211.61,361.58h0M211.89,361.19h0M212.17,360.79h0M212.46,360.38h0M212.74,359.96h0M213.02,359.52h0M213.30,359.07h0M213.58,358.61h0M213.86,358.13h0M214.15,357.64h0M214.43,357.13h0M214.71,356.61h0M214.99,356.06h0M215.27,355.48h0M215.55,354.88h0M215.83,354.25h0M216.12,353.61h0M216.40,352.96h0M216.68,352.28h0M216.96,351.59h0M217.24,350.89h0M217.52,350.18h0M217.80,349.44h0M218.09,348.67h0M218.37,347.89h0M218.65,347.08h0M218.93,346.25h0M219.21,345.40h0M219.49,344.52h0M219.78,343.61h0M220.06,342.67h0M220.34,341.69h0M220.62,340.68h0M220.90,339.65h0M221.18,338.60h0M221.46,337.54h0M221.75,336.45h0M222.03,335.35h0M222.31,334.23h0M222.59,333.07h0M222.87,331.88h0M223.15,330.66h0M223.43,329.38h0M223.72,328.03h0M224.00,326.62h0M224.28,325.17h0M224.56,323.72h0M224.84,322.29h0M225.12,320.89h0M225.41,319.52h0M225.69,318.15h0M225.97,316.74h0M226.25,315.27h0M226.53,313.70h0M226.81,312.05h0M227.09,310.35h0M227.38,308.64h0M227.66,306.95h0M227.94,305.23h0M228.22,303.51h0M228.50,301.80h0M228.78,300.10h0M229.06,298.41h0M229.35,296.71h0M229.63,295.01h0M229.91,293.34h0M230.19,291.72h0M230.47,290.15h0M230.75,288.50h0M231.04,286.67h0M231.32,284.80h0M231.60,283.09h0M231.88,281.69h0M232.16,280.77h0M232.44,280.50h0M232.72,280.69h0M233.01,281.12h0M233.29,281.72h0M233.57,282.64h0M233.85,284.58h0M234.13,287.41h0M234.41,290.93h0M234.69,294.93h0M234.98,302.36h0M235.26,310.52h0M243.14,305.23h0M243.42,294.36h0M243.70,285.92h0M243.98,277.68h0M244.27,269.98h0M244.55,263.19h0M244.83,257.51h0M245.11,252.35h0M245.39,247.70h0M245.67,243.68h0M245.95,240.44h0M246.24,237.75h0M246.52,235.13h0M246.80,232.69h0M247.08,230.57h0M247.36,228.90h0M247.64,227.84h0M247.93,227.50h0M248.21,228.01h0M248.49,229.18h0M248.77,230.77h0M249.05,232.52h0M249.33,234.17h0M249.61,235.53h0M249.90,236.97h0M250.18,238.54h0M250.46,240.15h0M250.74,241.73h0M251.02,243.21h0M251.30,244.51h0M251.58,245.56h0M251.87,246.28h0M252.15,246.59h0M252.43,244.94h0M252.71,239.49h0M252.99,232.20h0M253.27,220.36h0M253.56,210.20h0M253.84,202.23h0M254.12,189.96h0M254.40,173.02h0M254.68,159.46h0M254.96,155.40h0M255.24,152.76h0M255.53,150.85h0M255.81,149.01h0M256.09,146.81h0M256.37,144.70h0M256.65,142.71h0M256.93,140.82h0M257.21,139.02h0M257.50,137.30h0M257.78,135.63h0M258.06,134.01h0M258.34,132.45h0M258.62,130.94h0M258.90,129.48h0M259.19,128.06h0M259.47,126.69h0M259.75,125.34h0M260.03,124.03h0M260.31,122.75h0M260.59,121.50h0M260.87,120.29h0M261.16,119.12h0M261.44,117.98h0M261.72,116.87h0M262.00,115.77h0M262.28,114.68h0M262.56,113.60h0M262.84,112.52h0M263.13,111.47h0M263.41,110.45h0M263.69,109.48h0M263.97,108.59h0M264.25,107.76h0M264.53,106.97h0M264.82,106.22h0M265.10,105.50h0M265.38,104.80h0M265.66,104.13h0M265.94,103.47h0M266.22,102.82h0M266.50,102.18h0M266.79,101.56h0M267.07,100.96h0M267.35,100.37h0M267.63,99.78h0M267.91,99.22h0M268.19,98.66h0M268.47,98.11h0M268.76,97.56h0M269.04,97.03h0M269.32,96.50h0M269.60,95.97h0M269.88,95.45h0M270.16,94.94h0M270.45,94.43h0M270.73,93.93h0M271.01,93.44h0M271.29,92.96h0M271.57,92.49h0M271.85,92.04h0M272.13,91.60h0M272.42,91.18h0M272.70,90.76h0M272.98,90.34h0M273.26,89.92h0M273.54,89.51h0M273.82,89.10h0M274.10,88.69h0M274.39,88.29h0M274.67,87.91h0M274.95,87.53h0M275.23,87.17h0M275.51,86.82h0M275.79,86.49h0M276.08,86.17h0M276.36,85.88h0M276.64,85.60h0M276.92,85.35h0M277.20,85.12h0M277.48,84.90h0M277.76,84.67h0M278.05,84.45h0M278.33,84.24h0M278.61,84.02h0M278.89,83.81h0M279.17,83.61h0M279.45,83.42h0M279.73,83.23h0M280.02,83.04h0M280.30,82.87h0M280.58,82.71h0M280.86,82.56h0M281.14,82.41h0M281.42,82.28h0M281.71,82.17h0M281.99,82.06h0M282.27,81.97h0M282.55,81.90h0M282.83,81.84h0M283.11,81.80h0M283.39,81.77h0M283.68,81.74h0M283.96,81.71h0M284.24,81.68h0M284.52,81.66h0M284.80,81.64h0M285.08,81.62h0M285.36,81.60h0M285.65,81.58h0M285.93,81.57h0M286.21,81.55h0M286.49,81.54h0M286.77,81.52h0M287.05,81.51h0M287.34,81.49h0M287.62,81.48h0M287.90,81.47h0M288.18,81.45h0M288.46,81.43h0M288.74,81.42h0M289.02,81.40h0M289.31,81.38h0M289.59,81.36h0M289.87,81.33h0M290.15,81.31h0M290.43,81.29h0M290.71,81.26h0M290.99,81.24h0M291.28,81.21h0M291.56,81.19h0M291.84,81.16h0M292.12,81.14h0M292.40,81.12h0M292.68,81.10h0M292.97,81.08h0M293.25,81.06h0M293.53,81.04h0M293.81,81.03h0M294.09,81.02h0M294.37,81.01h0M294.65,81.00h0M294.94,81.00h0M295.22,81.01h0M295.50,81.03h0M295.78,81.08h0M296.06,81.14h0M296.34,81.22h0M296.62,81.31h0M296.91,81.41h0M297.19,81.52h0M297.47,81.64h0M297.75,81.76h0M298.03,81.89h0M298.31,82.01h0M298.60,82.13h0M298.88,82.25h0M299.16,82.36h0M299.44,82.48h0M299.72,82.61h0M300.00,82.73h0M300.28,82.87h0M300.57,83.00h0M300.85,83.15h0M301.13,83.29h0M301.41,83.44h0M301.69,83.60h0M301.97,83.75h0M302.25,83.92h0M302.54,84.08h0M302.82,84.25h0M303.10,84.42h0M303.38,84.60h0M303.66,84.78h0M303.94,84.96h0M304.23,85.15h0M304.51,85.34h0M304.79,85.54h0M305.07,85.75h0M305.35,85.96h0M305.63,86.18h0M305.91,86.41h0M306.20,86.64h0M306.48,86.87h0M306.76,87.11h0M307.04,87.36h0M307.32,87.60h0M307.60,87.85h0M307.88,88.11h0M308.17,88.37h0M308.45,88.63h0M308.73,88.89h0M309.01,89.16h0M309.29,89.43h0M309.57,89.69h0M309.86,89.97h0M310.14,90.24h0M310.42,90.51h0M310.70,90.78h0M310.98,91.06h0M311.26,91.33h0M311.54,91.61h0M311.83,91.88h0M312.11,92.15h0M312.39,92.42h0M312.67,92.69h0M312.95,92.96h0M313.23,93.22h0M313.51,93.48h0M313.80,93.72h0M314.08,93.95h0M314.36,94.18h0M314.64,94.39h0M314.92,94.61h0M315.20,94.82h0M315.49,95.03h0M315.77,95.24h0M316.05,95.46h0M316.33,95.68h0M316.61,95.90h0M316.89,96.14h0M317.17,96.38h0M317.46,96.64h0M317.74,96.91h0M318.02,97.19h0M318.30,97.50h0M318.58,97.82h0M318.86,98.16h0M319.14,98.53h0M319.43,98.92h0M319.71,99.33h0M319.99,99.78h0M320.27,100.25h0M320.55,100.90h0M320.83,101.88h0M321.12,103.04h0M321.40,104.25h0M321.68,105.38h0M321.96,106.28h0M322.24,106.87h0M322.52,107.37h0M322.80,107.82h0M323.09,108.24h0M323.37,108.62h0M323.65,108.97h0M323.93,109.30h0M324.21,109.61h0M324.49,109.90h0M324.77,110.18h0M325.06,110.46h0M325.34,110.74h0M325.62,111.02h0M325.90,111.31h0M326.18,111.61h0M326.46,111.94h0M326.75,112.28h0M327.03,112.62h0M327.31,112.95h0M327.59,113.29h0M327.87,113.62h0M328.15,113.94h0M328.43,114.27h0M328.72,114.59h0M329.00,114.92h0M329.28,115.24h0M329.56,115.56h0M329.84,115.89h0M330.12,116.22h0M330.40,116.55h0M330.69,116.88h0M330.97,117.22h0M331.25,117.56h0M331.53,117.90h0M331.81,118.26h0M332.09,118.61h0M332.38,118.98h0M332.66,119.35h0M332.94,119.73h0M333.22,120.12h0M333.50,120.52h0M333.78,120.93h0M334.06,121.35h0M334.35,121.79h0M334.63,122.26h0M334.91,122.74h0M335.19,123.24h0M335.47,123.75h0M335.75,124.28h0M336.03,124.81h0M336.32,125.34h0M336.60,125.88h0M336.88,126.42h0M337.16,126.95h0M337.44,127.48h0M337.72,128.00h0M338.01,128.51h0M338.29,129.01h0M338.57,129.49h0M338.85,129.96h0M339.13,130.42h0M339.41,130.87h0M339.69,131.32h0M339.98,131.76h0M340.26,132.20h0M340.54,132.63h0M340.82,133.07h0M341.10,133.51h0M341.38,133.96h0M341.66,134.40h0M341.95,134.86h0M342.23,135.32h0M342.51,135.79h0M342.79,136.28h0M343.07,136.77h0M343.35,137.28h0M343.64,137.82h0M343.92,138.38h0M344.20,138.95h0M344.48,139.54h0M344.76,140.14h0M345.04,140.74h0M345.32,141.35h0M345.61,141.96h0M345.89,142.55h0M346.17,143.14h0M346.45,143.72h0M346.73,144.27h0M347.01,144.81h0M347.29,145.32h0M347.58,145.80h0M347.86,146.28h0M348.14,146.76h0M348.42,147.23h0M348.70,147.69h0M348.98,148.14h0M349.27,148.59h0M349.55,149.02h0M349.83,149.45h0M350.11,149.86h0M350.39,150.26h0M350.67,150.64h0M350.95,151.01h0M351.24,151.36h0M351.52,151.69h0M351.80,152.01h0M352.08,152.32h0M352.36,152.62h0M352.64,152.92h0M352.92,153.21h0M353.21,153.48h0M353.49,153.74h0M353.77,153.98h0M354.05,154.20h0M354.33,154.39h0M354.61,154.56h0M354.90,154.70h0M355.18,154.84h0M355.46,154.98h0M355.74,155.11h0M356.02,155.23h0M356.30,155.34h0M356.58,155.43h0M356.87,155.51h0M357.15,155.56h0M357.43,155.59h0M357.71,155.60h0M357.99,155.57h0M358.27,155.51h0M358.55,155.43h0M358.84,155.33h0M359.12,155.21h0M359.40,155.08h0M359.68,154.94h0M359.96,154.79h0M360.24,154.64h0M360.53,154.49h0M360.81,154.32h0M361.09,154.13h0M361.37,153.92h0M361.65,153.69h0M361.93,153.44h0M362.21,153.17h0M362.50,152.89h0M362.78,152.60h0M363.06,152.29h0M363.34,151.97h0M363.62,151.64h0M363.90,151.28h0M364.18,150.89h0M364.47,150.49h0M364.75,150.06h0M365.03,149.61h0M365.31,149.14h0M365.59,148.65h0M365.87,148.14h0M366.16,147.62h0M366.44,147.08h0M366.72,146.53h0M367.00,145.96h0M367.28,145.38h0M367.56,144.79h0M367.84,144.19h0M368.13,143.54h0M368.41,142.86h0M368.69,142.14h0M368.97,141.40h0M369.25,140.62h0M369.53,139.82h0M369.81,139.01h0M370.10,138.18h0M370.38,137.34h0M370.66,136.49h0M370.94,135.64h0M371.22,134.80h0M371.50,133.96h0M371.79,133.13h0M372.07,132.32h0M372.35,131.51h0M372.63,130.70h0M372.91,129.89h0M373.19,129.08h0M373.47,128.26h0M373.76,127.43h0M374.04,126.58h0M374.32,125.72h0M374.60,124.83h0M374.88,123.92h0M375.16,122.99h0M375.44,122.00h0M375.73,120.95h0M376.01,119.87h0M376.29,118.77h0M376.57,117.66h0M376.85,116.55h0M377.13,115.47h0M377.42,114.42h0M377.70,113.41h0M377.98,112.44h0M378.26,111.47h0M378.54,110.52h0M378.82,109.58h0M379.10,108.67h0M379.39,107.79h0M379.67,106.95h0M379.95,106.14h0M380.23,105.37h0M380.51,104.64h0M380.79,103.92h0M381.07,103.23h0M381.36,102.56h0M381.64,101.90h0M381.92,101.26h0M382.20,100.63h0M382.48,100.00h0M382.76,99.38h0M383.05,98.75h0M383.33,98.09h0M383.61,97.42h0M383.89,96.74h0M384.17,96.08h0M384.45,95.44h0M384.73,94.84h0M385.02,94.28h0M385.30,93.79h0M385.58,93.37h0M385.86,93.04h0M386.14,92.78h0M386.42,92.57h0M386.70,92.39h0M386.99,92.24h0M387.27,92.10h0M387.55,91.96h0M387.83,91.83h0M388.11,91.69h0M388.39,91.53h0M388.68,91.34h0M388.96,91.13h0M389.24,90.86h0M389.52,90.50h0M389.80,90.06h0M390.08,89.55h0M390.36,88.99h0M390.65,88.41h0M390.93,87.81h0M391.21,87.22h0M391.49,86.65h0M391.77,86.12h0M392.05,85.65h0M392.33,85.26h0M392.62,84.88h0M392.90,84.50h0M393.18,84.12h0M393.46,83.74h0M393.74,83.38h0M394.02,83.04h0M394.31,82.75h0M394.59,82.49h0M394.87,82.30h0M395.15,82.16h0M395.43,82.10h0M395.71,82.15h0M395.99,82.32h0M396.28,82.57h0M396.56,82.86h0M396.84,83.13h0M397.12,83.32h0M397.40,83.40h0M397.68,83.32h0M397.96,83.09h0M398.25,82.74h0M398.53,82.32h0M398.81,81.84h0M399.09,81.34h0M399.37,80.85h0M399.65,80.40h0M399.94,80.02h0M400.22,79.75h0M400.50,79.61h0M400.78,79.62h0M401.06,79.72h0M401.34,79.88h0M401.62,80.10h0M401.91,80.37h0M402.19,80.65h0M402.47,80.95h0M402.75,81.25h0M403.03,81.53h0M403.31,81.81h0M403.59,82.10h0M403.88,82.41h0M404.16,82.74h0M404.44,83.09h0M404.72,83.47h0M405.00,83.86h0M405.28,84.28h0M405.57,84.72h0M405.85,85.20h0M406.13,85.71h0M406.41,86.24h0M406.69,86.80h0M406.97,87.38h0M407.25,87.98h0M407.54,88.61h0M407.82,89.25h0M408.10,89.92h0M408.38,90.60h0M408.66,91.30h0M408.94,92.03h0M409.22,92.79h0M409.51,93.60h0M409.79,94.45h0M410.07,95.36h0M410.35,96.32h0M410.63,97.35h0M410.91,98.46h0M411.20,99.67h0M411.48,101.00h0M411.76,102.45h0M412.04,104.03h0M412.32,105.75h0M412.60,107.62h0M412.88,109.69h0M413.17,112.09h0M413.45,114.81h0M413.73,117.83h0M414.01,121.13h0M414.29,124.99h0M414.57,129.54h0M414.85,135.04h0M415.14,141.19h0M415.42,146.65h0M415.70,151.40h0M415.98,156.06h0M416.26,161.21h0M416.54,166.96h0M416.83,173.11h0M417.11,179.52h0M417.39,186.05h0M417.67,192.57h0M417.95,198.93h0M418.23,205.13h0M418.51,211.35h0M418.80,217.56h0M419.08,223.76h0M419.36,229.92h0M419.64,236.02h0M419.92,242.05h0M420.20,247.99h0M420.48,253.83h0M420.77,259.59h0M421.05,265.27h0M421.33,270.87h0M421.61,276.37h0M421.89,281.78h0M422.17,287.28h0M422.46,292.83h0M422.74,298.35h0M423.02,303.73h0M423.30,308.88h0M423.58,313.69h0M423.86,318.06h0M424.14,321.97h0M424.43,325.75h0M424.71,329.35h0M424.99,332.70h0M425.27,335.68h0M425.55,338.22h0M425.83,340.21h0M426.11,341.96h0M426.40,343.67h0M426.68,345.29h0M426.96,346.76h0M427.24,348.06h0M427.52,349.13h0M427.80,349.92h0M428.09,350.39h0M428.37,350.49h0M428.65,350.23h0M428.93,349.65h0M429.21,348.81h0M429.49,347.73h0M429.77,346.48h0M430.06,345.09h0M430.34,343.60h0M430.62,342.07h0M430.90,340.53h0M431.18,338.97h0M431.46,337.19h0M431.74,335.18h0M432.03,332.96h0M432.31,330.57h0M432.59,328.02h0M432.87,325.34h0M433.15,322.54h0M433.43,319.65h0M433.72,316.57h0M434.00,313.27h0M434.28,309.75h0M434.56,306.04h0M434.84,302.15h0M435.12,298.10h0M435.40,293.90h0M435.69,289.58h0M435.97,285.15h0M436.25,280.64h0M436.53,276.05h0M436.81,271.41h0M437.09,266.74h0M437.37,262.04h0M437.66,257.35h0M437.94,252.68h0M438.22,247.99h0M438.50,243.01h0M438.78,237.72h0M439.06,232.21h0M439.35,226.58h0M439.63,220.92h0M439.91,215.31h0M440.19,209.83h0M440.47,204.59h0M440.75,199.66h0M441.03,195.13h0M441.32,191.10h0M441.60,187.50h0M441.88,184.00h0M442.16,180.59h0M442.44,177.28h0M442.72,174.09h0M443.00,171.05h0M443.29,168.16h0M443.57,165.45h0M443.85,162.92h0M444.13,160.61h0M444.41,158.53h0M444.69,156.70h0M444.98,155.12h0M445.26,153.77h0M445.54,152.54h0M445.82,151.44h0M446.10,150.46h0M446.38,149.59h0M446.66,148.83h0M446.95,148.15h0M447.23,147.46h0M447.51,146.80h0M447.79,146.22h0M448.07,145.78h0M448.35,145.54h0M448.63,145.77h0M448.92,147.77h0M449.20,151.03h0M449.48,154.73h0M449.76,158.97h0M450.04,164.42h0M450.32,170.75h0M450.61,177.64h0M450.89,185.36h0M451.17,194.77h0M451.45,207.52h0M451.73,225.47h0M452.01,243.97h0M452.29,234.97h0M452.58,218.71h0M452.86,203.16h0M453.14,196.19h0M453.42,191.26h0M453.70,186.96h0M453.98,183.22h0M454.26,179.90h0M454.55,176.84h0M454.83,173.86h0M455.11,170.82h0M455.39,167.97h0M455.67,165.29h0M455.95,162.71h0M456.24,160.13h0M456.52,157.45h0M456.80,154.59h0M457.08,151.45h0M457.36,147.81h0M457.64,143.33h0M457.92,138.50h0M458.21,133.90h0M458.49,130.14h0M458.77,127.00h0M459.05,123.83h0M459.33,120.71h0M459.61,117.72h0M459.89,114.95h0M460.18,112.50h0M460.46,110.44h0M460.74,108.86h0M461.02,107.85h0M461.30,107.50h0M461.58,108.88h0M461.87,112.28h0M462.15,116.70h0M462.43,121.13h0M462.71,124.57h0M462.99,126.00h0M463.27,125.77h0M463.55,125.10h0M463.84,124.10h0M464.12,122.87h0M464.40,121.50h0M464.68,120.10h0M464.96,118.76h0M465.24,117.59h0M465.52,116.67h0M465.81,116.12h0M466.09,116.05h0M466.37,116.72h0M466.65,117.99h0M466.93,119.60h0M467.21,121.26h0M467.50,122.73h0M467.78,123.72h0M468.06,123.98h0M468.34,123.46h0M468.62,122.30h0M468.90,120.64h0M469.18,118.59h0M469.47,116.29h0M469.75,113.86h0M470.03,111.42h0M470.31,109.04h0M470.59,106.12h0M470.87,102.81h0M471.15,99.47h0M471.44,96.46h0M471.72,94.05h0M472.00,91.82h0M472.28,89.74h0M472.56,87.88h0M472.84,86.35h0M473.13,85.21h0M473.41,84.29h0M473.69,83.41h0M473.97,82.58h0M474.25,81.83h0M474.53,81.17h0M474.81,80.62h0M475.10,80.19h0M475.38,79.92h0M475.66,79.80h0M475.94,79.81h0M476.22,79.86h0M476.50,79.95h0M476.78,80.07h0M477.07,80.23h0M477.35,80.42h0M477.63,80.65h0M477.91,80.91h0M478.19,81.65h0M478.47,83.83h0M478.76,86.75h0M479.04,89.61h0M479.32,91.58h0M479.60,91.70h0M479.88,88.48h0M480.16,84.01h0M480.44,81.13h0M480.73,80.85h0M481.01,80.72h0M481.29,80.63h0M481.57,80.60h0M481.85,81.29h0M482.13,83.41h0M482.41,86.50h0M482.70,90.10h0M482.98,93.73h0M483.26,97.28h0M483.54,101.18h0M483.82,105.64h0M484.10,110.88h0M484.39,117.13h0M484.67,124.48h0M484.95,134.70h0M485.23,153.43h0M485.51,210.54h0M485.79,219.14h0M486.07,223.56h0M486.36,231.63h0M491.42,249.46h0M491.70,254.22h0M491.99,257.89h0M492.27,261.09h0M492.55,264.28h0M492.83,267.20h0M493.11,269.89h0M493.39,272.50h0M493.67,275.17h0M493.96,278.02h0M494.24,281.39h0M494.52,285.94h0M494.80,290.60h0M495.08,294.03h0M495.36,294.99h0M495.65,294.64h0M495.93,293.88h0M496.21,289.28h0M496.49,282.05h0M496.77,276.30h0M497.05,271.08h0M497.33,265.84h0M497.62,260.21h0M497.90,254.11h0M498.18,247.99h0M498.46,242.31h0M498.74,236.90h0M499.02,231.68h0M499.30,226.76h0M499.59,222.31h0M499.87,215.28h0M500.15,204.44h0M500.43,192.09h0M500.71,180.17h0M500.99,166.25h0M501.28,152.51h0M501.56,142.51h0M501.84,138.69h0M502.12,136.61h0M502.40,135.80h0M502.68,137.05h0M502.96,140.34h0M503.25,145.06h0M503.53,150.56h0M503.81,157.12h0M504.09,166.86h0M504.37,182.08h0M504.65,211.45h0M504.93,246.46h0M505.22,224.27h0M505.50,200.13h0M505.78,180.73h0M506.06,162.15h0M506.34,150.84h0M506.62,148.04h0M506.91,145.90h0M507.19,144.10h0M507.47,142.61h0M507.75,141.44h0M508.03,140.57h0M508.31,139.98h0M508.59,139.67h0M508.88,139.62h0M509.16,139.97h0M509.44,140.85h0M509.72,142.31h0M510.00,144.43h0M510.28,147.28h0M510.56,152.72h0M510.85,167.66h0M511.13,154.58h0M511.41,134.35h0M511.69,106.70h0M511.97,85.46h0M512.25,82.75h0M512.54,80.60h0M512.82,78.79h0M513.10,77.29h0M513.38,76.08h0M513.66,75.14h0M513.94,74.43h0M514.22,73.94h0M514.51,73.64h0M514.79,73.51h0M515.07,73.61h0M515.35,74.28h0M515.63,75.65h0M515.91,77.78h0M516.19,80.75h0M516.48,84.63h0M516.76,105.60h0M517.04,138.93h0M517.32,163.93h0M517.60,191.43h0M517.88,240.74h0M518.17,262.38h0M518.45,244.65h0M518.73,222.77h0M519.01,203.71h0M519.29,182.48h0M519.57,162.00h0M519.85,145.68h0M520.14,135.79h0M520.42,127.99h0M520.70,123.40h0M520.98,128.43h0M521.26,155.06h0M521.54,226.63h0M521.82,212.11h0M522.11,192.89h0M522.39,170.39h0M522.67,148.11h0M522.95,132.93h0M523.23,121.76h0M523.51,111.70h0M523.80,103.66h0M524.08,98.56h0M524.36,97.21h0M524.64,97.51h0M524.92,98.18h0M525.20,99.16h0M525.48,100.55h0M525.77,104.33h0M526.05,109.86h0M526.33,115.56h0M526.61,121.57h0M526.89,128.11h0M527.17,134.44h0M527.45,140.26h0M527.74,145.94h0M528.02,151.48h0M528.30,156.91h0M528.58,162.23h0M528.86,167.47h0M529.14,172.63h0M529.43,177.73h0M529.71,182.76h0M529.99,187.73h0M530.27,192.64h0M530.55,197.49h0M530.83,202.28h0M531.11,207.02h0M531.40,211.71h0M531.68,216.35h0M531.96,220.94h0M532.24,225.38h0M532.52,229.55h0M532.80,233.55h0M533.08,237.49h0M533.37,241.47h0M533.65,245.59h0M533.93,249.96h0M534.21,254.68h0M534.49,259.85h0M534.77,266.07h0M535.06,273.45h0M535.34,281.35h0M535.62,289.07h0M535.90,295.97h0M536.18,301.42h0M536.46,305.84h0M536.74,309.73h0M537.03,313.39h0M537.31,317.10h0M537.59,321.02h0M537.87,324.98h0M538.15,328.77h0M538.43,332.21h0M538.71,335.14h0M539.00,337.78h0M539.28,340.22h0M539.56,342.48h0M539.84,344.58h0M540.12,346.53h0M540.40,348.36h0M540.69,350.11h0M540.97,351.78h0M541.25,353.37h0M541.53,354.89h0M541.81,356.34h0M542.09,357.72h0M542.37,359.03h0M542.66,360.27h0M542.94,361.45h0M543.22,362.60h0M543.50,363.72h0M543.78,364.81h0M544.06,365.85h0M544.34,366.83h0M544.63,367.74h0M544.91,368.57h0M545.19,369.31h0M545.47,369.95h0M545.75,370.54h0M546.03,371.08h0M546.32,371.58h0M546.60,372.04h0M546.88,372.45h0M547.16,372.82h0M547.44,373.14h0M547.72,373.42h0M548.00,373.70h0M548.29,373.96h0M548.57,374.20h0M548.85,374.41h0M549.13,374.59h0M549.41,374.72h0M549.69,374.80h0M549.97,374.85h0M550.26,374.90h0M550.54,374.94h0M550.82,374.99h0M551.10,375.03h0M551.38,375.07h0M551.66,375.10h0M551.95,375.13h0M552.23,375.16h0M552.51,375.19h0M552.79,375.21h0M553.07,375.23h0M553.35,375.25h0M553.63,375.27h0M553.92,375.28h0M554.20,375.29h0M554.48,375.30h0M554.76,375.30h0M555.04,375.30h0M555.32,375.30h0M555.60,375.30h0M555.89,375.30h0M556.17,375.30h0M556.45,375.30h0M556.73,375.30h0M557.01,375.30h0M557.29,375.30h0M557.58,375.30h0M557.86,375.30h0M558.14,375.30h0M558.42,375.30h0M558.70,375.30h0M558.98,375.29h0M559.26,375.29h0M559.55,375.29h0M559.83,375.29h0M560.11,375.29h0M560.39,375.29h0M560.67,375.29h0M560.95,375.29h0M561.23,375.28h0M561.52,375.28h0M561.80,375.28h0M562.08,375.28h0M562.36,375.28h0M562.64,375.27h0M562.92,375.27h0M563.21,375.27h0M563.49,375.27h0M563.77,375.26h0M564.05,375.26h0M564.33,375.26h0M564.61,375.25h0M564.89,375.25h0M565.18,375.25h0M565.46,375.24h0M565.74,375.24h0M566.02,375.23h0M566.30,375.23h0M566.58,375.22h0M566.86,375.22h0M567.15,375.21h0M567.43,375.21h0M567.71,375.20h0M567.99,375.14h0M568.27,374.87h0M568.55,374.49h0M568.84,374.07h0M569.12,373.72h0M569.40,373.52h0M569.68,373.60h0M569.96,374.06h0M570.24,374.73h0M570.52,375.41h0M570.81,375.89h0M571.09,375.98h0M571.37,375.62h0M571.65,375.00h0M571.93,374.30h0M572.21,373.74h0M572.49,373.50h0M572.78,373.75h0M573.06,374.37h0M573.34,375.15h0M573.62,375.85h0M573.90,376.27h0M574.18,376.16h0M574.47,375.54h0M574.75,374.66h0M575.03,373.77h0M575.31,373.15h0M575.59,373.03h0M575.87,373.43h0M576.15,374.13h0M576.44,374.91h0M576.72,375.54h0M577.00,375.80h0M577.28,375.50h0M577.56,374.76h0M577.84,373.84h0M578.12,373.02h0M578.41,372.54h0M578.69,372.63h0M578.97,373.20h0M579.25,374.00h0M579.53,374.81h0M579.81,375.37h0M580.10,375.45h0M580.38,374.87h0M580.66,373.86h0M580.94,372.76h0M581.22,371.86h0M581.50,371.50h0M581.78,371.83h0M582.07,372.62h0M582.35,373.59h0M582.63,374.46h0M582.91,374.96h0M583.19,374.80h0M583.47,373.94h0M583.75,372.73h0M584.04,371.52h0M584.32,370.68h0M584.60,370.55h0M584.88,371.14h0M585.16,372.15h0M585.44,373.26h0M585.73,374.15h0M586.01,374.50h0M586.29,374.02h0M586.57,372.88h0M586.85,371.50h0M587.13,370.25h0M587.41,369.55h0M587.70,369.69h0M587.98,370.46h0M588.26,371.54h0M588.54,372.60h0M588.82,373.34h0M589.10,373.45h0M589.38,372.88h0M589.67,371.84h0M589.95,370.53h0M590.23,369.17h0M590.51,367.96h0M590.79,366.85h0M591.07,365.71h0M591.36,364.57h0M591.64,363.39h0M591.92,361.96h0M592.20,360.81h0M592.48,360.66h0M592.76,362.87h0M593.04,365.46h0M593.33,365.73h0M593.61,363.94h0M593.89,362.21h0M594.17,362.62h0M594.45,365.43h0M594.73,368.60h0M595.01,370.00h0M595.30,369.65h0M595.58,368.54h0M595.86,366.46h0" fill="none" stroke="#151211" stroke-width="3.4" stroke-linecap="round"/>
<path d="M235.26,310.52 L235.40,312.00 L235.54,310.97 L235.82,304.77 L236.10,297.97 L236.30,296.00 L236.38,296.47 L236.67,302.86 L236.95,311.34 L237.20,315.00 L237.23,314.95 L237.51,310.36 L237.79,301.64 L238.07,293.64 L238.30,291.00 L238.35,291.23 L238.64,298.10 L238.92,309.17 L239.20,317.23 L239.30,318.00 L239.48,315.94 L239.76,307.37 L240.04,297.93 L240.30,294.00 L240.32,294.06 L240.61,300.99 L240.89,312.79 L241.17,319.91 L241.20,320.00 L241.45,316.58 L241.73,308.55 L242.01,302.46 L242.10,302.00 L242.30,305.99 L242.58,316.26 L242.70,318.00 L242.86,315.83M486.36,231.63 L486.60,244.00 L486.64,243.44 L486.90,231.00 L486.92,231.17 L487.20,246.00 L487.20,246.00 L487.48,232.15 L487.50,232.00 L487.76,246.39 L487.80,247.00 L488.04,233.33 L488.10,232.00 L488.33,244.74 L488.40,247.00 L488.61,236.14 L488.70,233.00 L488.89,242.70 L489.00,247.00 L489.17,238.54 L489.30,233.00 L489.45,240.17 L489.60,247.00 L489.73,241.54 L489.90,234.00 L490.02,238.63 L490.20,248.00 L490.30,245.05 L490.50,236.00 L490.58,238.03 L490.80,248.00 L490.86,247.17 L491.10,240.00 L491.14,240.37" fill="none" stroke="#151211" stroke-width="1.5" stroke-linejoin="round" stroke-linecap="round"/>
<g>
<text transform="translate(73,385.9) scale(1,1.06)" text-anchor="end">0</text><text transform="translate(73,326.9) scale(1,1.06)" text-anchor="end">20</text><text transform="translate(73,267.8) scale(1,1.06)" text-anchor="end">40</text><text transform="translate(73,208.8) scale(1,1.06)" text-anchor="end">60</text><text transform="translate(73,149.7) scale(1,1.06)" text-anchor="end">80</text><text transform="translate(73,90.7) scale(1,1.06)" text-anchor="end">100</text><text transform="translate(73,31.6) scale(1,1.06)" text-anchor="end">120</text>
<text transform="translate(84.6,436.8) scale(1,1.06)" text-anchor="middle">4 000</text><text transform="translate(230.6,436.8) scale(1,1.06)" text-anchor="middle">3 000</text><text transform="translate(376.6,436.8) scale(1,1.06)" text-anchor="middle">2 000</text><text transform="translate(523.0,436.8) scale(1,1.06)" text-anchor="middle">1 000</text>
<text transform="translate(238.3,376.6) rotate(-90)">2 964</text><text transform="translate(258.4,381.7) rotate(-90)">2 933</text><text transform="translate(265.3,305.4) rotate(-90)">2 860</text><text transform="translate(484.6,305.0) rotate(-90)">1 142</text><text transform="translate(501.6,355.8) rotate(-90)">1 191</text><text transform="translate(517.2,306.5) rotate(-90)">1 126</text>
<circle cx="234.3" cy="317.3" r="1.3" fill="#151211"/><circle cx="482.7" cy="250.6" r="1.3" fill="#2b2b2b"/>
<text transform="translate(29.7,295.3) rotate(-90)">Transmittance/%</text>
<text transform="translate(255.6,465.7) scale(1,1.1)" textLength="160" lengthAdjust="spacingAndGlyphs">Wavenumber/cm</text>
<text x="416.2" y="458" style="font-size:14px">-1</text>
</g>
</svg>
</body></html>
